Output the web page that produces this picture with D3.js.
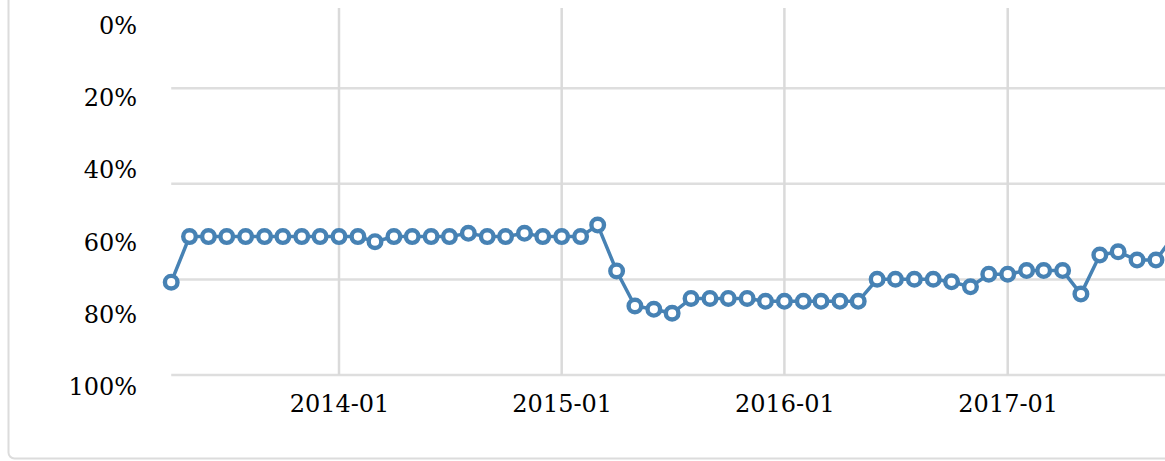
<!DOCTYPE html>
<html>
<head>
<meta charset="utf-8">
<script src="https://cdn.jsdelivr.net/npm/d3@7"></script>
<style>
  html, body { margin: 0; padding: 0; background: #fff; }
  svg { display: block; font-family: "DejaVu Serif", serif; }
</style>
</head>
<body>
<svg id="chart" width="1165" height="461"></svg>
<script>
// ---- data ----
const months = [
  "2013-04","2013-05","2013-06","2013-07","2013-08","2013-09","2013-10","2013-11","2013-12",
  "2014-01","2014-02","2014-03","2014-04","2014-05","2014-06","2014-07","2014-08","2014-09","2014-10","2014-11","2014-12",
  "2015-01","2015-02","2015-03","2015-04","2015-05","2015-06","2015-07","2015-08","2015-09","2015-10","2015-11","2015-12",
  "2016-01","2016-02","2016-03","2016-04","2016-05","2016-06","2016-07","2016-08","2016-09","2016-10","2016-11","2016-12",
  "2017-01","2017-02","2017-03","2017-04","2017-05","2017-06","2017-07","2017-08","2017-09","2017-10"
];
const values = [
  71.0, 58.4, 58.4, 58.4, 58.4, 58.4, 58.4, 58.4, 58.4,
  58.4, 58.4, 59.8, 58.4, 58.4, 58.4, 58.4, 57.5, 58.4, 58.4, 57.5, 58.4,
  58.4, 58.4, 55.2, 67.9, 77.6, 78.5, 79.6, 75.5, 75.5, 75.5, 75.5, 76.3,
  76.3, 76.3, 76.3, 76.3, 76.3, 70.2, 70.2, 70.2, 70.2, 70.9, 72.3, 68.8,
  68.8, 67.8, 67.8, 67.8, 74.3, 63.5, 62.6, 64.9, 64.9, 58.0
];
const yTickLabels = [0, 20, 40, 60, 80, 100];
const xTickLabels = ["2014-01", "2015-01", "2016-01", "2017-01"];
const gridSteps = [0.25, 0.5, 0.75, 1.0];

// ---- setup ----
const svg = d3.select("#chart");
const parse = d3.timeParse("%Y-%m");
const fmt = d3.timeFormat("%Y-%m");
const data = months.map((m, i) => ({ date: parse(m), value: values[i] }));

const x = d3.scaleTime()
  .domain([parse("2014-01"), parse("2017-01")])
  .range([339, 1007.7]);
const y = d3.scaleLinear().domain([0, 100]).range([25.5, 387]);   // label axis / data
const yGrid = d3.scaleLinear().domain([0, 1]).range([-7.5, 375]);   // horizontal grid
const plotTop = 8, plotBottom = 375;
const plotLeft = x(parse("2013-04"));

const defs = svg.append("defs");
defs.append("filter").attr("id", "soft")
  .attr("x", "-5%").attr("y", "-5%").attr("width", "110%").attr("height", "110%")
  .append("feGaussianBlur").attr("stdDeviation", 0.6);

// frame
svg.append("rect")
  .attr("x", 8.5).attr("y", -20)
  .attr("width", 1300).attr("height", 478.5)
  .attr("rx", 6)
  .attr("fill", "none")
  .attr("stroke", "#dcdcdc")
  .attr("stroke-width", 2);

// horizontal grid
svg.append("g")
  .selectAll("line")
  .data(gridSteps)
  .join("line")
  .attr("x1", plotLeft).attr("x2", 1200)
  .attr("y1", d => yGrid(d)).attr("y2", d => yGrid(d))
  .attr("stroke", "#dedede")
  .attr("stroke-width", 2.5);

// vertical grid
const xTicks = xTickLabels.map(parse);
svg.append("g")
  .selectAll("line")
  .data(xTicks)
  .join("line")
  .attr("x1", d => x(d)).attr("x2", d => x(d))
  .attr("y1", plotTop).attr("y2", plotBottom)
  .attr("stroke", "#dadada")
  .attr("stroke-width", 2.5);

// x axis labels
const xAxis = d3.axisBottom(x).tickValues(xTicks).tickFormat(fmt).tickSize(0).tickPadding(0);
const gx = svg.append("g").attr("transform", "translate(0,395)").call(xAxis);
gx.select(".domain").remove();
gx.selectAll("text")
  .attr("dy", "0.71em")
  .attr("font-size", 24)
  .attr("font-family", "DejaVu Serif, serif")
  .attr("fill", "#000");

// y axis labels
const yAxis = d3.axisLeft(y).tickValues(yTickLabels).tickFormat(d => d + "%").tickSize(0).tickPadding(0);
const gy = svg.append("g").attr("transform", "translate(137,0)").call(yAxis);
gy.select(".domain").remove();
gy.selectAll("text")
  .attr("font-size", 24)
  .attr("font-family", "DejaVu Serif, serif")
  .attr("fill", "#000");

// series
const gs = svg.append("g").attr("filter", "url(#soft)");
const line = d3.line().x(d => x(d.date)).y(d => y(d.value));
gs.append("path")
  .datum(data)
  .attr("d", line)
  .attr("fill", "none")
  .attr("stroke", "#4682b4")
  .attr("stroke-width", 3.5);

gs.append("g")
  .selectAll("circle")
  .data(data)
  .join("circle")
  .attr("cx", d => x(d.date))
  .attr("cy", d => y(d.value))
  .attr("r", 6.3)
  .attr("fill", "#fff")
  .attr("stroke", "#4682b4")
  .attr("stroke-width", 4.4);
</script>
</body>
</html>
